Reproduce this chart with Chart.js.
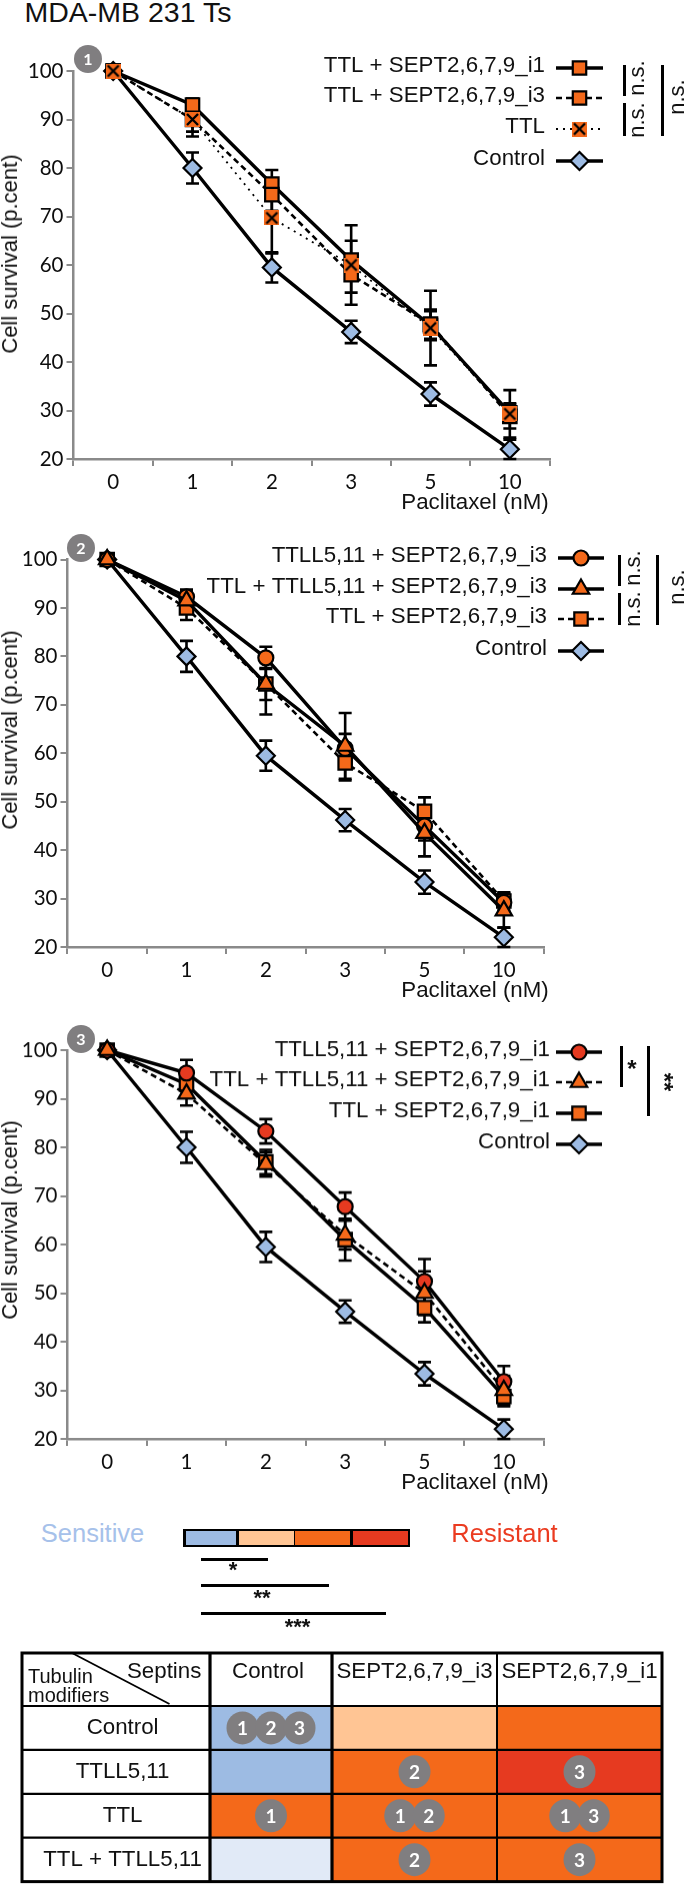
<!DOCTYPE html>
<html>
<head>
<meta charset="utf-8">
<title>MDA-MB 231 Ts</title>
<script src="https://cdn.jsdelivr.net/npm/chart.js@4/dist/chart.umd.js"></script>
<style>
  html, body { margin: 0; padding: 0; background: #fff; }
  #page { position: relative; width: 685px; height: 1895px; overflow: hidden; }
  canvas { position: absolute; left: 0; }
  .lbl { position: absolute; white-space: nowrap; color: #111; font-family: "Liberation Sans", Arial, sans-serif; line-height: 1; }
  .box { position: absolute; }
</style>
</head>
<body>
<div id="page"></div>
<script>
// data
const doses = ['0', '1', '2', '3', '5', '10'];

const controlMean = [100, 80, 59.5, 46.2, 33.4, 22];
const controlErr = [0, 3.2, 3.1, 2.3, 2.4, 2];

// panel 1
const p1I1Mean = [100, 93, 76.7, 61, 47.5, 29.5];
const p1I1Err = [0, 1.3, 2.9, 4, 3, 2];
const p1I3Mean = [100, 90, 74.5, 58, 47.8, 28.8];
const p1I3Err = [0, 2.5, 3.3, 3.7, 3, 2.5];
const p1TtlMean = [100, 90, 69.7, 60, 47, 29.3];
const p1TtlErr = [1, 3.5, 7.3, 8.2, 7.7, 4.9];

// panel 2
const p2CircleMean = [100, 92.3, 79.7, 61, 45, 29.2];
const p2CircleErr = [0, 1.5, 2.3, 3, 3, 2];
const p2TriangleMean = [100, 91.5, 74.3, 61.5, 43.5, 27.5];
const p2TriangleErr = [0, 2, 6.3, 6.8, 4.8, 3.5];
const p2SquareMean = [100, 90, 74.3, 58, 48, 29.5];
const p2SquareErr = [0, 2.5, 3.3, 3.6, 2.9, 1.8];

// panel 3
const p3CircleMean = [100, 95.3, 83.3, 67.8, 52.4, 31.8];
const p3CircleErr = [0, 2.7, 2.5, 2.9, 4.6, 3.2];
const p3TriangleMean = [100, 91, 76.5, 62, 50, 30];
const p3TriangleErr = [0, 2.4, 2.5, 3, 4.5, 3];
const p3SquareMean = [100, 93, 77, 61, 47, 28.7];
const p3SquareErr = [0, 1.5, 2.5, 4.3, 3, 2];

// summary table
const septinCols = ['Control', 'SEPT2,6,7,9_i3', 'SEPT2,6,7,9_i1'];
const modifierRows = ['Control', 'TTLL5,11', 'TTL', 'TTL + TTLL5,11'];
const cellLevels = [
  [1, 2, 3],
  [1, 3, 4],
  [3, 3, 3],
  [0, 3, 3]
];
const cellPanels = [
  [[1, 2, 3], [], []],
  [[], [2], [3]],
  [[1], [1, 2], [1, 3]],
  [[], [2], [3]]
];

const ORANGE = '#F4691A', RED = '#E63A20', BLUE = '#9DBBE3', PEACH = '#FFC594', PALE = '#E1EAF7';
const levelColors = [PALE, BLUE, PEACH, ORANGE, RED];
const GREY = '#807E80', AXIS = '#8A8A8A', INK = '#0d0d0d';
const SANS = '"Liberation Sans", Arial, sans-serif';
const page = document.getElementById('page');

function label(text, x, y, size, opts) {
  opts = opts || {};
  const d = document.createElement('div');
  d.className = 'lbl';
  d.textContent = text;
  d.style.left = x + 'px';
  d.style.top = y + 'px';
  d.style.fontSize = size + 'px';
  if (opts.color) d.style.color = opts.color;
  if (opts.weight) d.style.fontWeight = opts.weight;
  if (opts.family) d.style.fontFamily = opts.family;
  d.style.transform = 'translate(-50%,-50%) rotate(' + (opts.rot || 0) + 'deg)';
  page.appendChild(d);
}

function box(x, y, w, h, color) {
  const d = document.createElement('div');
  d.className = 'box';
  d.style.cssText = 'left:' + x + 'px;top:' + y + 'px;width:' + w + 'px;height:' + h + 'px;background:' + color;
  page.appendChild(d);
}

function badge(n, x, y) {
  const d = document.createElement('div');
  d.className = 'box';
  d.style.cssText = 'left:' + (x - 14) + 'px;top:' + (y - 14) + 'px;width:28px;height:28px;border-radius:50%;background:' + GREY;
  page.appendChild(d);
  label(n, x, y, 16, { color: '#fff', weight: 'bold', family: 'Lato' });
}

// orange square with a black cross, used for the TTL series
function crossMarker() {
  const c = document.createElement('canvas');
  c.width = 15; c.height = 15;
  const g = c.getContext('2d');
  g.fillStyle = ORANGE;
  g.fillRect(0, 0, 15, 15);
  g.strokeStyle = '#000';
  g.lineWidth = 2.4;
  g.beginPath();
  g.moveTo(2, 2); g.lineTo(13, 13);
  g.moveTo(13, 2); g.lineTo(2, 13);
  g.stroke();
  return c;
}

const errorBars = {
  id: 'errorBars',
  beforeDatasetsDraw(chart) {
    const ctx = chart.ctx, y = chart.scales.y;
    ctx.save();
    ctx.strokeStyle = '#000';
    ctx.lineWidth = 2.6;
    chart.data.datasets.forEach((ds, i) => {
      const pts = chart.getDatasetMeta(i).data;
      ds.err.forEach((e, k) => {
        if (!e) return;
        const px = pts[k].x;
        const hi = y.getPixelForValue(ds.data[k] + e);
        const lo = y.getPixelForValue(ds.data[k] - e);
        ctx.beginPath();
        ctx.moveTo(px, hi); ctx.lineTo(px, lo);
        ctx.moveTo(px - 6.5, hi); ctx.lineTo(px + 6.5, hi);
        ctx.moveTo(px - 6.5, lo); ctx.lineTo(px + 6.5, lo);
        ctx.stroke();
      });
    });
    ctx.restore();
  }
};

// legend has the text on the left of the sample, so the stock one does not fit
const sideLegend = {
  id: 'sideLegend',
  afterDraw(chart, args, o) {
    const ctx = chart.ctx;
    o.rows.forEach((dsIndex, r) => {
      const ds = chart.data.datasets[dsIndex];
      const yy = o.ys[r] - o.top;
      ctx.save();
      ctx.fillStyle = '#111';
      ctx.font = '22.3px ' + SANS;
      ctx.textAlign = 'right';
      ctx.textBaseline = 'middle';
      ctx.fillText(ds.label, o.textRight, yy - 2);
      ctx.strokeStyle = '#000';
      ctx.lineWidth = ds.borderWidth;
      ctx.setLineDash(ds.borderDash || []);
      ctx.beginPath();
      ctx.moveTo(o.lineLeft, yy);
      ctx.lineTo(o.lineRight, yy);
      ctx.stroke();
      ctx.setLineDash([]);
      ctx.fillStyle = ds.pointBackgroundColor;
      ctx.strokeStyle = ds.pointBorderColor;
      ctx.lineWidth = 2.2;
      Chart.helpers.drawPoint(ctx, { pointStyle: ds.pointStyle, radius: ds.pointRadius, rotation: 0, borderWidth: 2.2 }, (o.lineLeft + o.lineRight) / 2, yy);
      ctx.restore();
    });
  }
};

const SOLID = [], DASHED = [6, 4], DOTTED = [2, 5];

function series(name, mean, err, marker, fill, dash, z) {
  const radius = { rect: 9.5, rectRot: 9, circle: 7.5, triangle: 9.5 }[marker] || 8;
  return {
    label: name,
    data: mean,
    err: err,
    borderColor: '#000',
    borderWidth: dash === DOTTED ? 1.8 : (dash === DASHED ? 2.6 : 3.4),
    borderDash: dash,
    pointStyle: marker,
    pointRadius: radius,
    pointBackgroundColor: fill,
    pointBorderColor: '#000',
    pointBorderWidth: 2.2,
    tension: 0,
    clip: false,
    order: z
  };
}

function makePanel(p) {
  const c = document.createElement('canvas');
  const height = p.plotBottom - p.top + 56;
  c.width = 685;
  c.height = height;
  c.style.top = p.top + 'px';
  c.style.width = '685px';
  c.style.height = height + 'px';
  page.appendChild(c);

  new Chart(c.getContext('2d'), {
    type: 'line',
    data: { labels: doses, datasets: p.datasets },
    plugins: [errorBars, sideLegend],
    options: {
      responsive: false,
      animation: false,
      layout: { padding: { top: p.plotTop - p.top, right: 685 - p.right, left: 0, bottom: 0 } },
      plugins: {
        legend: { display: false },
        tooltip: { enabled: false },
        sideLegend: Object.assign({ top: p.top }, p.legend)
      },
      scales: {
        x: {
          type: 'category',
          offset: true,
          afterFit(s) { s.height = 56; },
          grid: { offset: true, drawOnChartArea: false, color: AXIS, lineWidth: 2, tickLength: 7 },
          border: { color: AXIS, width: 2.5 },
          ticks: { color: INK, font: { family: 'Lato', size: 20.5 }, padding: 4, autoSkip: false, maxRotation: 0 }
        },
        y: {
          min: 20,
          max: 100,
          afterFit(s) { s.width = p.left; },
          grid: { drawOnChartArea: false, color: AXIS, lineWidth: 2, tickLength: 7 },
          border: { color: AXIS, width: 2.5 },
          ticks: { stepSize: 10, color: INK, font: { family: 'Lato', size: 20.5 }, padding: 3 }
        }
      }
    }
  });
  label('Cell survival (p.cent)', 10, p.titleY, 22, { rot: -90 });
  label('Paclitaxel (nM)', 475, p.plotBottom + 43, 22.3);
}

const I1 = 'TTL + SEPT2,6,7,9_i1', I3 = 'TTL + SEPT2,6,7,9_i3';

makePanel({
  top: 30, plotTop: 71, plotBottom: 459, left: 73.5, right: 549.5, titleY: 254,
  datasets: [
    series(I1, p1I1Mean, p1I1Err, 'rect', ORANGE, SOLID, 2),
    series(I3, p1I3Mean, p1I3Err, 'rect', ORANGE, DASHED, 1),
    series('TTL', p1TtlMean, p1TtlErr, crossMarker(), ORANGE, DOTTED, 0),
    series('Control', controlMean, controlErr, 'rectRot', BLUE, SOLID, 3)
  ],
  legend: { rows: [0, 1, 2, 3], ys: [68, 98, 129, 161], textRight: 545, lineLeft: 556, lineRight: 603 }
});

makePanel({
  top: 520, plotTop: 559.5, plotBottom: 947, left: 67.5, right: 543.5, titleY: 729.5,
  datasets: [
    series('TTLL5,11 + SEPT2,6,7,9_i3', p2CircleMean, p2CircleErr, 'circle', ORANGE, SOLID, 1),
    series('TTL + TTLL5,11 + SEPT2,6,7,9_i3', p2TriangleMean, p2TriangleErr, 'triangle', ORANGE, SOLID, 0),
    series(I3, p2SquareMean, p2SquareErr, 'rect', ORANGE, DASHED, 2),
    series('Control', controlMean, controlErr, 'rectRot', BLUE, SOLID, 3)
  ],
  legend: { rows: [0, 1, 2, 3], ys: [558, 589, 619, 651], textRight: 547, lineLeft: 558, lineRight: 604 }
});

makePanel({
  top: 1010, plotTop: 1050, plotBottom: 1438.5, left: 67.5, right: 543.5, titleY: 1219.5,
  datasets: [
    series('TTLL5,11 + SEPT2,6,7,9_i1', p3CircleMean, p3CircleErr, 'circle', RED, SOLID, 1),
    series('TTL + TTLL5,11 + SEPT2,6,7,9_i1', p3TriangleMean, p3TriangleErr, 'triangle', ORANGE, DASHED, 0),
    series(I1, p3SquareMean, p3SquareErr, 'rect', ORANGE, SOLID, 2),
    series('Control', controlMean, controlErr, 'rectRot', BLUE, SOLID, 3)
  ],
  legend: { rows: [0, 1, 2, 3], ys: [1052, 1082, 1113, 1144], textRight: 550, lineLeft: 556, lineRight: 602 }
});

// title, panel numbers, significance brackets
label('MDA-MB 231 Ts', 128, 12, 28.5);
badge('1', 88, 59);
badge('2', 81, 548);
badge('3', 81, 1039);

box(622.5, 65, 3, 31, '#000');
box(622.5, 103, 3, 33, '#000');
box(660.5, 65, 3, 71, '#000');
label('n.s.', 637, 78, 22, { rot: -90 });
label('n.s.', 637, 120, 22, { rot: -90 });
label('n.s.', 677, 97, 22, { rot: -90 });

box(618, 555, 3, 31, '#000');
box(618, 593, 3, 32, '#000');
box(656, 555, 3, 70, '#000');
label('n.s.', 633, 568, 22, { rot: -90 });
label('n.s.', 633, 609, 22, { rot: -90 });
label('n.s.', 677, 587, 22, { rot: -90 });

box(620, 1046, 3, 41, '#000');
box(647, 1046, 3, 70, '#000');
label('*', 632, 1069, 24, { weight: 'bold' });
label('**', 664, 1082, 24, { weight: 'bold', rot: 90 });

// colour key
label('Sensitive', 92.5, 1534, 25.5, { color: '#A6C1EA' });
label('Resistant', 504.5, 1534, 25.5, { color: '#EB3B20' });
box(183, 1529, 227, 18, '#000');
[[185.5, 50, BLUE], [238.5, 55, PEACH], [295, 55, ORANGE], [352.5, 55.5, RED]].forEach(s => box(s[0], 1531, s[1], 14, s[2]));

box(200.5, 1557.5, 67.5, 3, '#000');
box(200.5, 1583.5, 128, 3, '#000');
box(200.5, 1611.5, 185.5, 3, '#000');
label('*', 233, 1570, 22, { weight: 'bold' });
label('**', 262, 1598, 22, { weight: 'bold' });
label('***', 297.5, 1627, 22, { weight: 'bold' });

// summary table, drawn as floating horizontal bars on a hidden x scale
const colEdges = [0, 122, 287, 452];
const tableTop = 1650;

const tableLines = {
  id: 'tableLines',
  afterDatasetsDraw(chart) {
    const ctx = chart.ctx, x = chart.scales.x, y = chart.scales.y, area = chart.chartArea;
    const rowH = (area.bottom - area.top) / modifierRows.length;
    const left = 22, headTop = 3;
    ctx.save();

    ctx.fillStyle = '#000';
    ctx.strokeStyle = '#000';

    // horizontal rules
    ctx.lineWidth = 2.2;
    modifierRows.forEach((r, i) => {
      ctx.beginPath();
      ctx.moveTo(left, y.getPixelForValue(i) - rowH / 2);
      ctx.lineTo(x.right, y.getPixelForValue(i) - rowH / 2);
      ctx.stroke();
    });
    // vertical rules
    colEdges.slice(0, -1).forEach((edge, i) => {
      ctx.lineWidth = i < 2 ? 3.2 : 2;
      ctx.beginPath();
      ctx.moveTo(x.getPixelForValue(edge), headTop);
      ctx.lineTo(x.getPixelForValue(edge), area.bottom);
      ctx.stroke();
    });
    // outer frame
    ctx.lineWidth = 3;
    ctx.strokeRect(left, headTop, x.right - left, area.bottom - headTop);

    // corner cell
    ctx.lineWidth = 1.8;
    ctx.beginPath();
    ctx.moveTo(72, headTop);
    ctx.lineTo(169.5, area.top - 2);
    ctx.stroke();

    ctx.textBaseline = 'middle';
    ctx.textAlign = 'center';
    ctx.fillStyle = '#111';
    ctx.font = '22.3px ' + SANS;
    septinCols.forEach((name, i) => {
      const nudge = i === 0 ? -3 : 0;
      ctx.fillText(name, x.getPixelForValue((colEdges[i] + colEdges[i + 1]) / 2) + nudge, 22);
    });
    ctx.textAlign = 'left';
    ctx.fillText('Septins', 127, 22);
    ctx.font = '20px ' + SANS;
    ctx.fillText('Tubulin', 28, 27);
    ctx.fillText('modifiers', 28, 46);

    // numbered panel markers inside the cells
    cellPanels.forEach((row, r) => {
      row.forEach((nums, c) => {
        const cx = x.getPixelForValue((colEdges[c] + colEdges[c + 1]) / 2);
        nums.forEach((n, k) => {
          const px = cx + (k - (nums.length - 1) / 2) * 28.5;
          ctx.fillStyle = GREY;
          ctx.beginPath();
          ctx.ellipse(px, y.getPixelForValue(r), 16, 16.5, 0, 0, Math.PI * 2);
          ctx.fill();
        });
        nums.forEach((n, k) => {
          const px = cx + (k - (nums.length - 1) / 2) * 28.5;
          ctx.fillStyle = '#fff';
          ctx.font = 'bold 19px Lato';
          ctx.textAlign = 'center';
          ctx.fillText(String(n), px, y.getPixelForValue(r) + 1);
        });
      });
    });
    ctx.restore();
  }
};

(function () {
  const c = document.createElement('canvas');
  c.width = 685;
  c.height = 245;
  c.style.top = tableTop + 'px';
  c.style.width = '685px';
  c.style.height = '245px';
  page.appendChild(c);

  new Chart(c.getContext('2d'), {
    type: 'bar',
    data: {
      labels: modifierRows,
      datasets: septinCols.map((name, i) => ({
        label: name,
        data: modifierRows.map(() => [colEdges[i], colEdges[i + 1]]),
        backgroundColor: modifierRows.map((r, k) => levelColors[cellLevels[k][i]]),
        categoryPercentage: 1,
        barPercentage: 1,
        grouped: false,
        borderWidth: 0
      }))
    },
    plugins: [tableLines],
    options: {
      indexAxis: 'y',
      responsive: false,
      animation: false,
      layout: { padding: { top: 56, left: 22, right: 23, bottom: 3 } },
      plugins: { legend: { display: false }, tooltip: { enabled: false } },
      scales: {
        x: { type: 'linear', min: 0, max: colEdges[3], display: false },
        y: {
          type: 'category',
          afterFit(s) { s.width = 188; },
          grid: { display: false },
          border: { display: false },
          ticks: { color: '#111', font: { family: 'Liberation Sans', size: 22.3 }, crossAlign: 'center', padding: 0 }
        }
      }
    }
  });
})();
</script>
</body>
</html>
